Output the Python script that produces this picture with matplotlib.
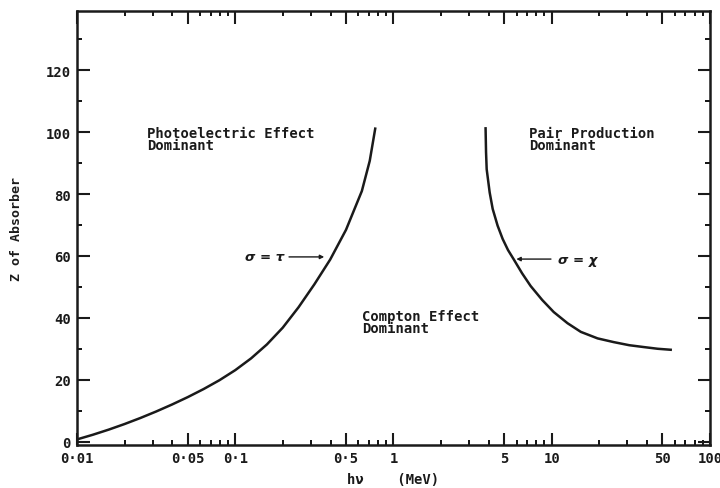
import numpy as np
import matplotlib.pyplot as plt
from matplotlib.ticker import FixedLocator, LogLocator, MultipleLocator, NullFormatter

# Curva sigma = tau (fotoeletrico = Compton)
e_tau = [0.01, 0.01259, 0.01585, 0.01995, 0.02512, 0.03162, 0.03981, 0.05012, 0.0631,
         0.07943, 0.1, 0.1259, 0.1585, 0.1995, 0.2512, 0.3162, 0.3981, 0.5012, 0.631,
         0.7079, 0.769]
z_tau = [0.8, 2.3, 3.95, 5.75, 7.7, 9.8, 12.05, 14.45, 17.05,
         19.9, 23.15, 26.95, 31.45, 36.85, 43.45, 50.85, 58.85, 68.45, 80.95,
         90.7, 101.5]

# Curva sigma = chi (Compton = producao de pares)
e_chi = [3.819, 3.846, 3.882, 4.055, 4.236, 4.550, 4.898, 5.297, 5.741, 6.501, 7.362,
         8.710, 10.30, 12.59, 15.28, 19.50, 24.66, 30.90, 38.19, 46.77, 57.54]
z_chi = [101.6, 93.5, 88.0, 80.5, 75.2, 69.8, 65.5, 61.9, 59.0, 54.4, 50.3,
         45.8, 41.9, 38.3, 35.5, 33.4, 32.2, 31.2, 30.6, 30.05, 29.7]

x_ticks = [0.01, 0.05, 0.1, 0.5, 1, 5, 10, 50, 100]
x_labels = ['0·01', '0·05', '0·1', '0·5', '1', '5', '10', '50', '100']
y_ticks = [0, 20, 40, 60, 80, 100, 120]

cor = '#1a1a1a'
fonte = 'DejaVu Sans Mono'

fig = plt.figure(figsize=(7.2, 4.89), dpi=100)
ax = fig.add_axes([0.107, 0.088, 0.879, 0.887])

ax.plot(e_tau, z_tau, color=cor, lw=1.8, solid_capstyle='butt', solid_joinstyle='round')
ax.plot(e_chi, z_chi, color=cor, lw=1.8, solid_capstyle='butt', solid_joinstyle='round')

ax.set_xscale('log')
ax.set_xlim(0.01, 100)
ax.set_ylim(-1, 139)

ax.xaxis.set_major_locator(FixedLocator(x_ticks))
ax.set_xticklabels(x_labels)
ax.xaxis.set_minor_locator(LogLocator(base=10, subs=(2, 3, 4, 6, 7, 8, 9), numticks=20))
ax.xaxis.set_minor_formatter(NullFormatter())
ax.set_yticks(y_ticks)
ax.yaxis.set_minor_locator(MultipleLocator(10))

ax.tick_params(which='major', direction='in', length=9, width=1.5, top=True, right=True,
               labelsize=10, colors=cor, pad=4.5)
ax.tick_params(which='minor', direction='in', length=3.5, width=1.3, top=True, right=True)
for lab in ax.get_xticklabels() + ax.get_yticklabels():
    lab.set_fontweight('bold')
    lab.set_family(fonte)
for s in ax.spines.values():
    s.set_linewidth(1.8)
    s.set_color(cor)

ax.set_xlabel('hν    (MeV)', fontsize=10, fontweight='bold', family=fonte, color=cor, labelpad=5)
ax.set_ylabel('Z of Absorber', fontsize=9.5, fontweight='bold', family=fonte, color=cor, labelpad=16)

kw = dict(fontsize=10, fontweight='bold', family=fonte, color=cor, va='top', ha='left',
          linespacing=0.85)
ax.text(0.0277, 102.0, 'Photoelectric Effect\nDominant', **kw)
ax.text(7.15, 102.0, 'Pair Production\nDominant', **kw)
ax.text(0.637, 43.0, 'Compton Effect\nDominant', **kw)

# rotulos das curvas com setas
ax.annotate('', xy=(0.38, 59.7), xytext=(0.21, 59.7),
            arrowprops=dict(arrowstyle='-|>', color=cor, lw=1.0, mutation_scale=6))
ax.text(0.205, 59.7, 'σ = τ', fontsize=9.5, fontweight='bold', style='italic',
        color=cor, ha='right', va='center')
ax.annotate('', xy=(5.74, 59), xytext=(10.3, 59),
            arrowprops=dict(arrowstyle='-|>', color=cor, lw=1.0, mutation_scale=6))
ax.text(10.9, 59, 'σ = χ', fontsize=9.5, fontweight='bold', style='italic',
        color=cor, ha='left', va='center')

fig.savefig('out.png', dpi=100)
